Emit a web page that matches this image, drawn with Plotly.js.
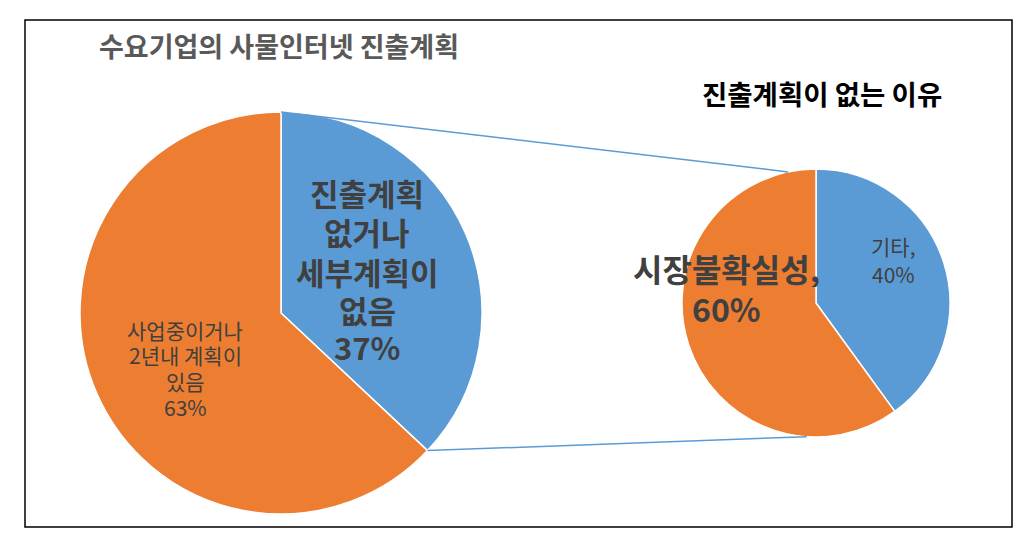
<!DOCTYPE html>
<html>
<head>
<meta charset="utf-8">
<script src="https://cdn.plot.ly/plotly-3.0.1.min.js"></script>
<style>html,body{margin:0;padding:0;background:#fff;}#chart{width:1025px;height:539px;}</style>
</head>
<body>
<div id="chart"></div>
<script>
// Data
const mainTitle = '수요기업의 사물인터넷 진출계획';
const subTitle = '진출계획이 없는 이유';
const mainLabels = ['진출계획\n없거나\n세부계획이\n없음', '사업중이거나\n2년내 계획이\n있음'];
const mainValues = [37, 63];
const subLabels = ['기타', '시장불확실성'];
const subValues = [40, 60];
const colors = ['#5B9BD5', '#ED7D31'];

const W = 1025, H = 539;
const px = x => x / W;
const py = y => 1 - y / H;
const FONT = '"Noto Sans CJK KR", "Noto Sans", sans-serif';

// geometry (pixels)
const L = {cx: 281, cy: 313, r: 201};
const R = {cx: 816, cy: 303, r: 134};

function dom(c) {
  return {x: [px(c.cx - c.r), px(c.cx + c.r)], y: [py(c.cy + c.r), py(c.cy - c.r)]};
}
function pt(c, deg) {
  const a = deg * Math.PI / 180;
  return [c.cx + c.r * Math.sin(a), c.cy - c.r * Math.cos(a)];
}

const mainTotal = mainValues.reduce((a, b) => a + b, 0);
const splitDeg = mainValues[0] / mainTotal * 360;
const p1 = pt(L, 0), p2 = pt(L, splitDeg);
const q1 = pt(R, -12), q2 = pt(R, 184);

const traces = [
  {type: 'pie', values: mainValues, labels: ['a1', 'a2'], sort: false, direction: 'clockwise', rotation: 0,
   marker: {colors: colors, line: {color: '#ffffff', width: 1.5}}, textinfo: 'none', hoverinfo: 'none',
   domain: dom(L), showlegend: false},
  {type: 'pie', values: subValues, labels: ['b1', 'b2'], sort: false, direction: 'clockwise', rotation: 0,
   marker: {colors: colors, line: {color: '#ffffff', width: 1.5}}, textinfo: 'none', hoverinfo: 'none',
   domain: dom(R), showlegend: false}
];

// label blocks: lines stacked at given pixel centers
function block(lines, cx, ys, font, h) {
  return lines.map((t, i) => ({text: t, x: px(cx), y: py(ys[i]), xanchor: 'center', yanchor: 'middle',
    font: font, height: h, borderpad: 0}));
}

const boldBig = {family: FONT, size: 31, color: '#404040', weight: 'bold'};
const annotations = [
  {text: mainTitle, x: px(97), y: py(45), xanchor: 'left', yanchor: 'middle',
   font: {family: FONT, size: 27, color: '#595959', weight: 'bold'}},
  {text: subTitle, x: px(700), y: py(93), xanchor: 'left', yanchor: 'middle',
   font: {family: FONT, size: 27.5, color: '#000000', weight: 'bold'}}
].concat(
  block(mainLabels[0].split('\n').concat([mainValues[0] + '%']), 367, [192, 232, 271, 309, 346], boldBig, 37),
  block(mainLabels[1].split('\n').concat([mainValues[1] + '%']), 185, [330, 355, 381, 407],
        {family: FONT, size: 21, color: '#404040'}, 24),
  block([subLabels[0] + ',', subValues[0] + '%'], 893, [246, 274], {family: FONT, size: 21, color: '#404040'}, 26),
  block([subLabels[1] + ',', subValues[1] + '%'], 726, [268, 308], {family: FONT, size: 32, color: '#404040', weight: 'bold'}, 38)
).map(a => Object.assign({xref: 'paper', yref: 'paper', showarrow: false, align: 'center'}, a));

const shapes = [
  {type: 'rect', xref: 'paper', yref: 'paper', x0: px(25), x1: px(1012), y0: py(527), y1: py(20),
   line: {color: '#000000', width: 1.5}, fillcolor: 'rgba(0,0,0,0)'},
  {type: 'line', xref: 'paper', yref: 'paper', x0: px(p1[0]), y0: py(p1[1]), x1: px(q1[0]), y1: py(q1[1]),
   line: {color: '#5B9BD5', width: 1.5}},
  {type: 'line', xref: 'paper', yref: 'paper', x0: px(p2[0]), y0: py(p2[1]), x1: px(q2[0]), y1: py(q2[1]),
   line: {color: '#5B9BD5', width: 1.5}}
];

const layout = {
  width: W, height: H, margin: {l: 0, r: 0, t: 0, b: 0},
  paper_bgcolor: '#ffffff', plot_bgcolor: '#ffffff',
  showlegend: false, annotations: annotations, shapes: shapes,
  font: {family: FONT}
};

Plotly.newPlot('chart', traces, layout, {displayModeBar: false, staticPlot: true});
</script>
</body>
</html>
